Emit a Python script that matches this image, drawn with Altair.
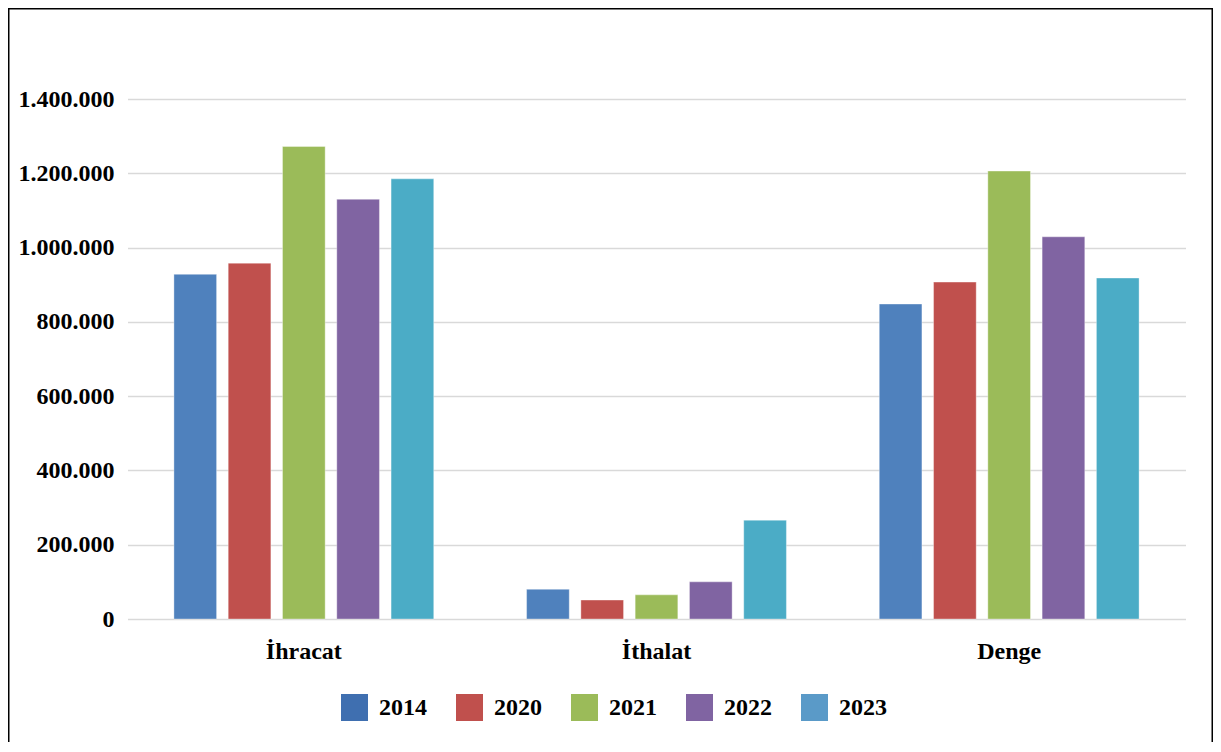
import altair as alt
import pandas as pd

categories = ["İhracat", "İthalat", "Denge"]
years = ["2014", "2020", "2021", "2022", "2023"]
ihracat = [928000, 958000, 1272000, 1130000, 1185000]
ithalat = [80000, 51000, 65000, 100000, 266000]
denge = [848000, 907000, 1206000, 1029000, 918000]
bar_colors = ["#4f81bd", "#c0504d", "#9bbb59", "#8064a2", "#4bacc6"]
legend_colors = ["#3f6fb0", "#c0504d", "#9bbb59", "#8064a2", "#5a9ac8"]
y_ticks = [0, 200000, 400000, 600000, 800000, 1000000, 1200000, 1400000]

rows = []
for cat, vals in zip(categories, [ihracat, ithalat, denge]):
    for yr, v in zip(years, vals):
        rows.append({"Kategori": cat, "Yıl": yr, "Değer": v})
df = pd.DataFrame(rows)

FONT = "Liberation Serif"

x_enc = alt.X(
    "Kategori:N",
    sort=categories,
    scale=alt.Scale(paddingInner=0, paddingOuter=0),
    axis=alt.Axis(
        title=None, labelAngle=0, domain=False, ticks=False, tickSize=0,
        labelPadding=39, labelBaseline="alphabetic", labelFont=FONT,
        labelFontSize=24, labelFontWeight="bold", labelColor="black",
    ),
)
y_enc = alt.Y(
    "Değer:Q",
    scale=alt.Scale(domain=[0, 1400000], nice=False),
    axis=alt.Axis(
        title=None, values=y_ticks, domain=False, ticks=False, tickSize=0,
        grid=True, gridColor="#d9d9d9", gridWidth=1.5,
        labelPadding=13.5, labelFont=FONT, labelFontSize=24,
        labelFontWeight="bold", labelColor="black",
        labelExpr="replace(format(datum.value, ','), regexp(',', 'g'), '.')",
    ),
)
xoff = alt.XOffset("Yıl:N", sort=years,
                   scale=alt.Scale(paddingInner=0.214, paddingOuter=0.855))

bars = alt.Chart(df).mark_bar(stroke="white", strokeWidth=0.6, strokeOpacity=0.6).encode(
    x=x_enc,
    y=y_enc,
    xOffset=xoff,
    color=alt.Color("Yıl:N", sort=years,
                    scale=alt.Scale(domain=years, range=bar_colors), legend=None),
)

legend_layer = alt.Chart(df).mark_square(size=0, filled=True).encode(
    color=alt.Color(
        "Yıl:N", sort=years,
        scale=alt.Scale(domain=years, range=legend_colors),
        legend=alt.Legend(
            title=None, orient="none", legendX=213.5, legendY=595,
            direction="horizontal", symbolType="square", symbolSize=729,
            symbolStrokeWidth=0, symbolOpacity=1, labelFont=FONT,
            labelFontSize=24, labelFontWeight="bold", labelColor="black",
            labelOffset=11, columnPadding=29, labelLimit=200,
        ),
    ),
)

frame = alt.Chart(alt.Data(values=[{}])).mark_rect(
    filled=False, stroke="black", strokeWidth=1.5
).encode(
    x=alt.value(-118.75), x2=alt.value(1084.75),
    y=alt.value(-90.25), y2=alt.value(720),
)

chart = (
    alt.layer(bars, legend_layer, frame)
    .resolve_scale(color="independent")
    .properties(
        width=1058, height=520,
        autosize=alt.AutoSizeParams(type="none"),
        padding={"left": 119.5, "top": 91, "right": 27.5, "bottom": 123},
        background="white",
    )
    .configure_view(stroke=None)
)

chart.save("out.html", embed_options={"renderer": "svg", "actions": False})
